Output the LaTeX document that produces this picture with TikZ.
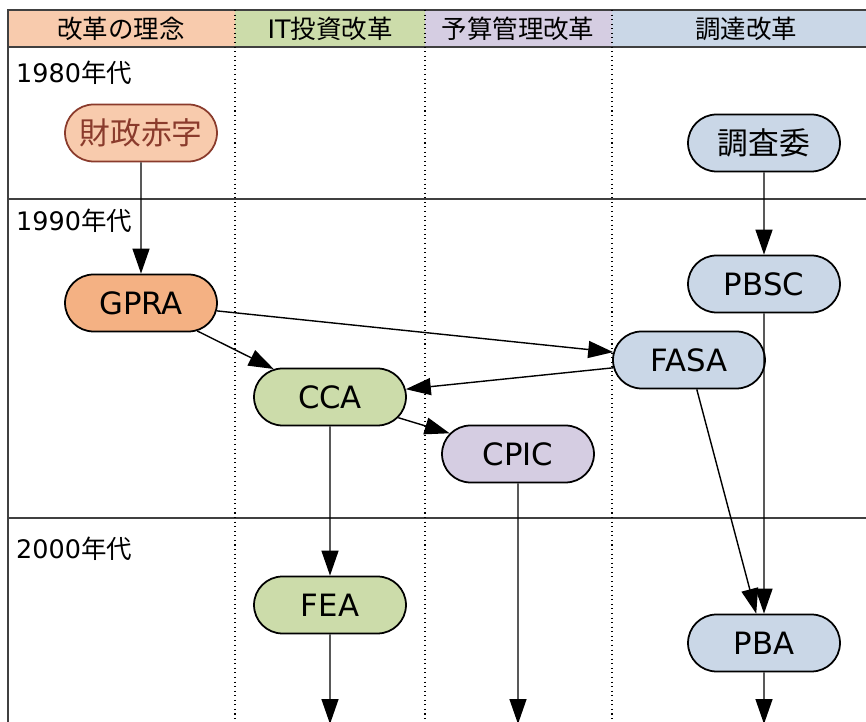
\documentclass[tikz,border=0pt]{standalone}
\usepackage{fontspec}
\setmainfont{DejaVu Sans}
\newfontfamily\jp{Noto Sans CJK JP}
\usetikzlibrary{shapes.misc, arrows.meta}

\definecolor{hdorange}{HTML}{F8CBAD}
\definecolor{deeporange}{HTML}{F4B183}
\definecolor{hdgreen}{HTML}{CCDCAA}
\definecolor{hdpurple}{HTML}{D5CDE2}
\definecolor{hdblue}{HTML}{CAD7E7}
\definecolor{brownish}{HTML}{8A3B2C}
\definecolor{gridline}{HTML}{404040}

\tikzset{
  box/.style={rounded rectangle, draw=black, line width=1pt, minimum width=3.04cm,
    minimum height=1.14cm, inner sep=0pt, font=\fontsize{17.5}{20}\selectfont},
  link/.style={line width=0.8pt, -{Triangle[length=0.5cm, width=0.34cm]}},
  hdtext/.style={font=\fontsize{14.5}{17}\selectfont},
  decade/.style={anchor=west, font=\fontsize{14.5}{17}\selectfont},
}

\begin{document}
\begin{tikzpicture}[x=0.02cm, y=-0.02cm]
\useasboundingbox (0,0) rectangle (866,722);

% header cells
\fill[hdorange] (8,10) rectangle (235,47);
\fill[hdgreen] (235,10) rectangle (425,47);
\fill[hdpurple] (425,10) rectangle (612,47);
\fill[hdblue] (612,10) rectangle (866,47);

\draw[gridline, line width=1.1pt] (866,10) -- (8,10) -- (8,722);
\foreach \y in {47, 199, 518} {
\draw[gridline, line width=1.1pt] (8,\y) -- (866,\y);
}
\foreach \x in {235, 425, 612} {
\draw[dotted, line width=0.6pt] (\x,10) -- (\x,722);
}

\node[hdtext] (hidea) at (121,29) {\jp 改革の理念};
\node[hdtext] (hit) at (330,29) {IT\jp 投資改革};
\node[hdtext] (hbudget) at (518,29) {\jp 予算管理改革};
\node[hdtext] (hprocure) at (746,29) {\jp 調達改革};

\node[decade] (d80) at (10,73) {1980\jp 年代};
\node[decade] (d90) at (10,221) {1990\jp 年代};
\node[decade] (d00) at (10,549) {2000\jp 年代};

\node[box, fill=hdorange, draw=brownish, text=brownish] (deficit) at (141,133) {\jp 財政赤字};
\node[box, fill=hdblue] (panel) at (764,143) {\jp 調査委};
\node[box, fill=deeporange] (gpra) at (141,303) {GPRA};
\node[box, fill=hdblue] (pbsc) at (764,284) {PBSC};
\node[box, fill=hdblue] (fasa) at (689,360) {FASA};
\node[box, fill=hdgreen] (cca) at (330,397) {CCA};
\node[box, fill=hdpurple] (cpic) at (518,454) {CPIC};
\node[box, fill=hdgreen] (fea) at (330,605) {FEA};
\node[box, fill=hdblue] (pba) at (764,643) {PBA};

\coordinate (feaout) at (330,724);
\coordinate (cpicout) at (518,724);
\coordinate (pbaout) at (764,724);

\foreach \a/\b in {deficit/gpra, panel/pbsc, gpra/fasa, gpra/cca, fasa/cca,
  cca/cpic, cca/fea, pbsc/pba, fasa/pba, fea/feaout, cpic/cpicout, pba/pbaout} {
\draw[link] (\a) -- (\b);
}

\end{tikzpicture}
\end{document}
